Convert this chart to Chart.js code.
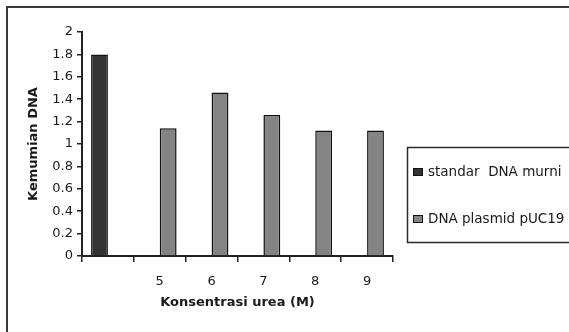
<!DOCTYPE html>
<html>
<head>
<meta charset="utf-8">
<script src="https://cdn.jsdelivr.net/npm/chart.js@4/dist/chart.umd.min.js"></script>
<style>
  html, body { margin: 0; padding: 0; background: #fff; }
  canvas { display: block; }
</style>
</head>
<body>
<canvas id="c" width="569" height="332"></canvas>
<script>
// Category labels along the x axis (the first group is the reference standard)
const categories = ['', '5', '6', '7', '8', '9'];

// Purity of the pure DNA standard
const standardValues = [1.8, null, null, null, null, null];

// Purity of plasmid pUC19 DNA at each urea concentration
const plasmidValues = [null, 1.14, 1.46, 1.26, 1.12, 1.12];

const seriesNames = ['standar  DNA murni', 'DNA plasmid pUC19'];

const yTickMin = 0;
const yTickMax = 2;
const yTickStep = 0.2;

const xTitle = 'Konsentrasi urea (M)';
const yTitle = 'Kemumian DNA';

const FONT = 'DejaVu Sans';
const INK = '#1a1a1a';

// White page, outer frame and boxed legend
const framePlugin = {
  id: 'frame',
  beforeDraw(chart) {
    const ctx = chart.ctx;
    ctx.save();
    ctx.fillStyle = '#fff';
    ctx.fillRect(0, 0, chart.width, chart.height);
    ctx.restore();
  },
  afterDraw(chart) {
    const ctx = chart.ctx;
    ctx.save();
    // outer chart border (runs off the right and bottom edge)
    ctx.strokeStyle = '#3a3a3a';
    ctx.lineWidth = 2;
    ctx.beginPath();
    ctx.moveTo(7, chart.height + 5);
    ctx.lineTo(7, 7);
    ctx.lineTo(chart.width + 5, 7);
    ctx.stroke();

    // legend box
    const bx = 407.5, by = 147.5, bh = 95;
    ctx.lineWidth = 1.5;
    ctx.strokeStyle = '#2a2a2a';
    ctx.beginPath();
    ctx.moveTo(chart.width + 5, by);
    ctx.lineTo(bx, by);
    ctx.lineTo(bx, by + bh);
    ctx.lineTo(chart.width + 5, by + bh);
    ctx.stroke();

    const rows = [172, 219];
    ctx.font = '13.5px "' + FONT + '"';
    ctx.textBaseline = 'middle';
    ctx.textAlign = 'left';
    chart.data.datasets.forEach((ds, i) => {
      const y = rows[i];
      ctx.fillStyle = ds.backgroundColor;
      ctx.fillRect(413.5, y - 3.5, 9, 7);
      ctx.lineWidth = 1;
      ctx.strokeStyle = '#111';
      ctx.strokeRect(413.5, y - 3.5, 9, 7);
      ctx.fillStyle = INK;
      ctx.fillText(ds.label, 428, y + 0.5);
    });
    ctx.restore();
  }
};

new Chart(document.getElementById('c'), {
  type: 'bar',
  data: {
    labels: categories,
    datasets: [
      {
        label: seriesNames[0],
        data: standardValues,
        backgroundColor: '#333333',
        borderColor: '#111111',
        borderWidth: 1.5,
        borderSkipped: 'bottom'
      },
      {
        label: seriesNames[1],
        data: plasmidValues,
        backgroundColor: '#848484',
        borderColor: '#111111',
        borderWidth: 1.5,
        borderSkipped: 'bottom'
      }
    ]
  },
  options: {
    responsive: false,
    animation: false,
    devicePixelRatio: 1,
    layout: { padding: { left: 0, top: 32, right: 176, bottom: 0 } },
    datasets: {
      bar: { categoryPercentage: 0.65, barPercentage: 1.0 }
    },
    plugins: {
      legend: { display: false },
      tooltip: { enabled: false }
    },
    scales: {
      x: {
        offset: true,
        afterFit(scale) {
          scale.height = 76;
          scale.paddingLeft = 0;
          scale.paddingRight = 0;
        },
        grid: {
          offset: true,
          drawOnChartArea: false,
          drawTicks: true,
          tickLength: 6,
          color: '#222',
          lineWidth: 1.5
        },
        border: { display: true, color: '#222', width: 2 },
        ticks: {
          color: INK,
          font: { family: FONT, size: 13 },
          padding: 12,
          maxRotation: 0,
          autoSkip: false
        },
        title: {
          display: true,
          text: xTitle,
          color: INK,
          font: { family: FONT, size: 13, weight: 'bold' },
          padding: { top: 0, bottom: 22 }
        }
      },
      y: {
        min: yTickMin,
        max: yTickMax,
        afterFit(scale) {
          scale.width = 82;
          scale.paddingTop = 0;
          scale.paddingBottom = 0;
        },
        grid: {
          drawOnChartArea: false,
          drawTicks: true,
          tickLength: 5,
          color: '#222',
          lineWidth: 1.5
        },
        border: { display: true, color: '#222', width: 2 },
        ticks: {
          stepSize: yTickStep,
          color: INK,
          font: { family: FONT, size: 13 },
          padding: 4,
          callback: (v) => String(Number(v.toFixed(1)))
        },
        title: {
          display: true,
          text: yTitle,
          color: INK,
          font: { family: FONT, size: 13, weight: 'bold' },
          padding: { top: 26, bottom: 0 }
        }
      }
    }
  },
  plugins: [framePlugin]
});
</script>
</body>
</html>
